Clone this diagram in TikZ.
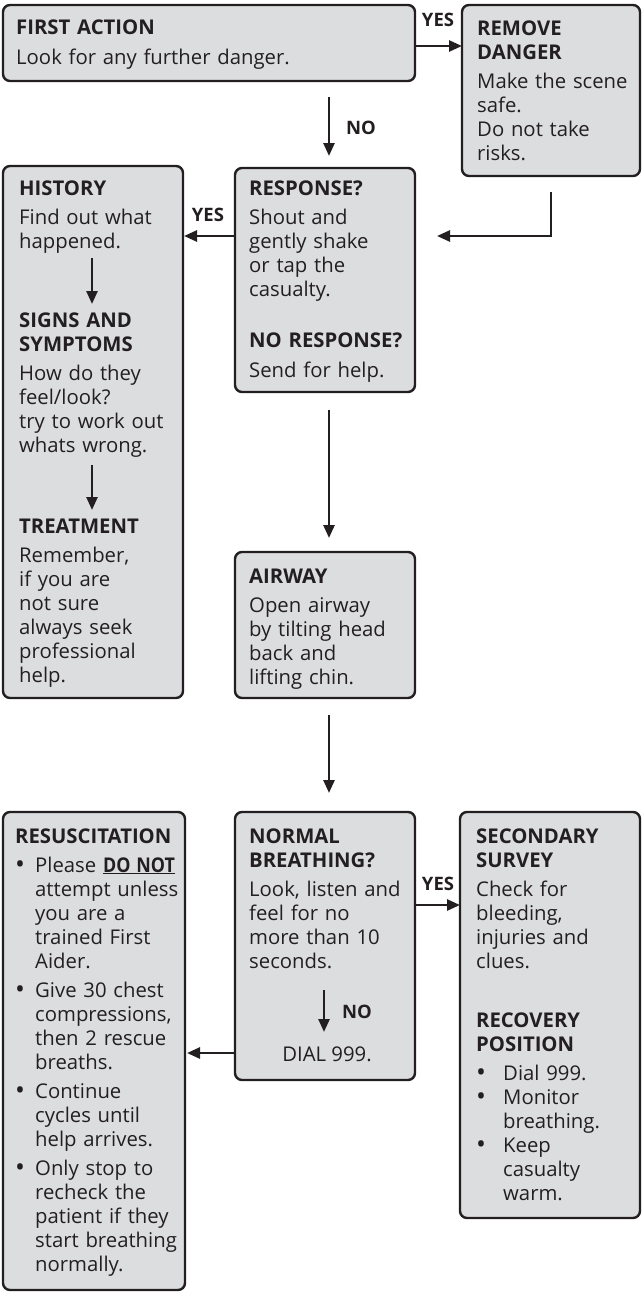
\documentclass[tikz,border=0pt]{standalone}
\usepackage{fontspec}
\usepackage{graphicx}
\setmainfont{Open Sans}
\usetikzlibrary{arrows.meta}
\definecolor{boxfill}{RGB}{220,221,223}
\definecolor{ink}{RGB}{35,31,32}
\newcommand\bitem[1]{\makebox[#1][l]{\raisebox{-1.8pt}{\scalebox{1.3}{\textbullet}}}}
\newcommand\bcont[1]{\hspace*{#1}}
\begin{document}
\begin{tikzpicture}[x=1pt,y=-1pt,
  box/.style={draw=ink, line width=2.4pt, fill=boxfill, rounded corners=7pt, inner sep=0pt, outer sep=0pt, anchor=north west},
  txt/.style={anchor=base west, inner sep=0pt, text width=#1, align=left, font=\fontsize{20.3}{24}\selectfont, text=ink},
  arr/.style={draw=ink, line width=2.6pt, -{Triangle[length=13pt,width=11pt]}},
  lbl/.style={font=\bfseries\fontsize{18.5}{20}\selectfont, text=ink, inner sep=0pt}]
\useasboundingbox (0,0) rectangle (644,1293);

% boxes
\node[box, minimum width=412pt, minimum height=76pt]  (first)     at (3,5) {};
\node[box, minimum width=178pt, minimum height=171pt] (remove)    at (462,5) {};
\node[box, minimum width=180pt, minimum height=532pt] (history)   at (3,166) {};
\node[box, minimum width=180pt, minimum height=224pt] (response)  at (235,168) {};
\node[box, minimum width=180pt, minimum height=146pt] (airway)    at (235,552) {};
\node[box, minimum width=182pt, minimum height=478pt] (resus)     at (3,812) {};
\node[box, minimum width=180pt, minimum height=268pt] (normal)    at (235,812) {};
\node[box, minimum width=180pt, minimum height=406pt] (secondary) at (460,812) {};

% texts
\node[txt=390pt] (tfirst) at (16,34) {\textbf{FIRST ACTION}\\[6pt]Look for any further danger.};
\node[txt=170pt] (tremove) at (477,35) {\textbf{REMOVE}\\\textbf{DANGER}\\[5pt]Make the scene\\safe.\\Do not take\\risks.};
\node[txt=170pt] (thist1) at (19,195) {\textbf{HISTORY}\\[5pt]Find out what\\happened.};
\node[txt=170pt] (thist2) at (19,327) {\textbf{SIGNS AND}\\\textbf{SYMPTOMS}\\[5pt]How do they\\feel/look?\\try to work out\\whats wrong.};
\node[txt=170pt] (thist3) at (19,533) {\textbf{TREATMENT}\\[5pt]Remember,\\if you are\\not sure\\always seek\\professional\\help.};
\node[txt=170pt] (tresp) at (249,195) {\textbf{RESPONSE?}\\[5pt]Shout and\\gently shake\\or tap the\\casualty.\\[27pt]\textbf{NO RESPONSE?}\\[6pt]Send for help.};
\node[txt=170pt] (tair) at (249,583) {\textbf{AIRWAY}\\[5pt]Open airway\\by tilting head\\back and\\lifting chin.};
\node[txt=170pt] (tnorm) at (249,843) {\textbf{NORMAL}\\\textbf{BREATHING?}\\[5pt]Look, listen and\\feel for no\\more than 10\\seconds.};
\node[anchor=base, inner sep=0pt, font=\fontsize{20.3}{24}\selectfont, text=ink] (tdial) at (327,1061) {DIAL 999.};
\node[txt=170pt] (tsec) at (476,843) {\textbf{SECONDARY}\\\textbf{SURVEY}\\[5pt]Check for\\bleeding,\\injuries and\\clues.\\[35pt]\textbf{RECOVERY}\\\textbf{POSITION}\\[5pt]\bitem{27pt}Dial 999.\\\bitem{27pt}Monitor\\\bcont{27pt}breathing.\\\bitem{27pt}Keep\\\bcont{27pt}casualty\\\bcont{27pt}warm.};
\node[txt=200pt] (tres) at (15,843) {\textbf{RESUSCITATION}\\[5pt]\bitem{20pt}\mbox{Please \underline{\scalebox{0.88}[1]{\textbf{DO NOT}}}}\\\bcont{20pt}attempt unless\\\bcont{20pt}you are a\\\bcont{20pt}trained First\\\bcont{20pt}Aider.\\[5pt]\bitem{20pt}Give 30 chest\\\bcont{20pt}compressions,\\\bcont{20pt}then 2 rescue\\\bcont{20pt}breaths.\\[5pt]\bitem{20pt}Continue\\\bcont{20pt}cycles until\\\bcont{20pt}help arrives.\\[5pt]\bitem{20pt}Only stop to\\\bcont{20pt}recheck the\\\bcont{20pt}patient if they\\\bcont{20pt}start breathing\\\bcont{20pt}normally.};

% helper coordinates
\path (response.north) ++(4,0) coordinate (rn);
\path (response.east) ++(0,-44) coordinate (re);
\path (normal.east) ++(0,-41) coordinate (ne);
\path (normal.west) ++(0,107) coordinate (nw);
\coordinate (h1a) at (92,258);
\coordinate (h1b) at (92,304);
\coordinate (h2a) at (92,465);
\coordinate (h2b) at (92,510);
\coordinate (n1a) at (324,990);
\coordinate (n1b) at (324,1032);

% connectors
\draw[arr] ([yshift=-3pt]first.east) -- ([yshift=-3pt]first.east -| remove.west);
\node[lbl] (yes1) at (438,20) {YES};
\draw[arr, shorten <=16pt, shorten >=12pt] (first.south -| rn) -- (rn);
\node[lbl] (no1) at (361,128) {NO};
\draw[arr, shorten <=16pt, shorten >=22pt] (remove.south) |- (re);
\draw[arr, shorten >=1pt] (re -| response.west) -- (re -| history.east);
\node[lbl] (yes2) at (208,215) {YES};
\draw[arr] (h1a) -- (h1b);
\draw[arr] (h2a) -- (h2b);
\draw[arr, shorten <=18pt, shorten >=14pt] (rn |- response.south) -- (rn |- airway.north);
\draw[arr, shorten <=17pt, shorten >=19pt] (rn |- airway.south) -- (rn |- normal.north);
\draw[arr] (ne) -- (ne -| secondary.west);
\node[lbl] (yes3) at (438,884) {YES};
\draw[arr] (n1a) -- (n1b);
\node[lbl] (no2) at (357,1012) {NO};
\draw[arr, shorten >=2pt] (nw) -- (nw -| resus.east);
\end{tikzpicture}
\end{document}
